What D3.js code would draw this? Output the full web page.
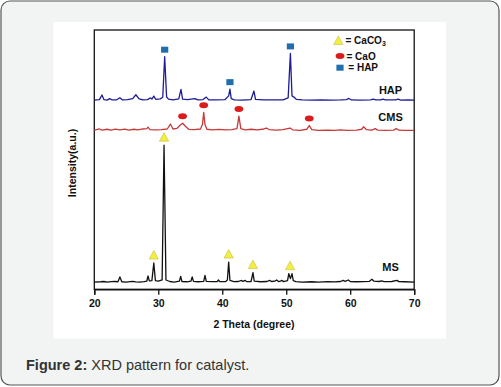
<!DOCTYPE html>
<html><head><meta charset="utf-8">
<script src="https://cdn.jsdelivr.net/npm/d3@7"></script>
<style>
html,body{margin:0;padding:0;background:#fff;}
svg{display:block;font-family:"Liberation Sans",Arial,sans-serif;}
</style></head>
<body><svg id="c" width="501" height="387"></svg>
<script>
// ---------- DATA ----------
const xTicks = [20, 30, 40, 50, 60, 70];
const seriesNames = ["HAP", "CMS", "MS"];

// MS (black) : [2theta, intensity]
const msData = [
[20,0],[21,2],[21.5,4],[22,0],[22.6,3],[23.2,4],[23.7,2],[24.0,37],[24.3,2],[25,0],[25.6,3],[26,5],[26.5,1],[27,0],
[27.8,3],[28.2,6],[28.4,44],[28.6,8],[29.0,10],[29.3,139],[29.55,10],[30.0,6],[30.6,15],[30.9,1000],[31.2,15],
[31.8,4],[32.5,0],[33.3,6],[33.5,42],[33.7,4],[34.5,2],[35.1,6],[35.3,37],[35.5,5],[36.2,2],[37.1,5],[37.3,49],
[37.5,5],[38.5,3],[39.2,3],[39.4,15],[39.6,3],[40.5,3],[40.8,15],[41.0,146],[41.2,12],[41.8,3],[42.5,4],[43.0,12],
[43.2,5],[43.6,12],[43.8,3],[44.5,4],[44.8,69],[45.0,6],[46,2],[47.0,4],[47.4,12],[47.7,4],[48.2,6],[48.5,15],
[48.8,4],[49.1,7],[49.3,12],[49.6,3],[50.2,10],[50.4,61],[50.65,25],[50.9,61],[51.1,10],[51.5,3],[52.5,0],[54,2],
[55,0],[56.5,3],[57.5,1],[58.5,4],[58.9,12],[59.2,5],[59.7,15],[60.0,4],[61,2],[62,3],[63.0,5],[63.4,20],[63.7,6],
[64.5,4],[64.9,8],[65.3,3],[66.5,4],[67.3,12],[67.6,3],[68.5,2],[70,0]];

// CMS (red)
const cmsData = [
[20,1110],[20.8,1118],[21.2,1110],[22,1116],[22.6,1110],[23.3,1117],[24,1111],[24.8,1117],[25.4,1110],[26.2,1116],
[26.8,1112],[27.6,1118],[28.2,1121],[28.4,1132],[28.7,1114],[29.5,1112],[30.5,1114],[31.4,1118],[31.9,1154],[32.3,1118],
[32.9,1122],[33.4,1145],[33.8,1160],[34.2,1140],[34.8,1115],[35.6,1114],[36.6,1118],[36.9,1150],[37.1,1240],[37.3,1150],
[37.6,1116],[38.5,1112],[39.5,1115],[40.5,1111],[41.5,1114],[42.3,1120],[42.6,1212],[42.9,1120],[43.6,1112],[44.5,1116],
[45.5,1112],[46.5,1118],[46.9,1125],[47.3,1114],[48.5,1110],[49.5,1113],[50.6,1125],[51,1112],[52.2,1108],[53.2,1116],
[53.6,1143],[54.0,1114],[55,1108],[56.5,1110],[57.5,1108],[58.5,1112],[59.5,1108],[61,1110],[61.8,1116],[62.1,1135],
[62.5,1114],[63.4,1110],[63.9,1121],[64.3,1110],[65.5,1108],[66.8,1110],[67.2,1121],[67.6,1109],[68.5,1108],[70,1108]];

// HAP (blue)
const hapData = [
[20,1329],[20.8,1332],[21.2,1366],[21.5,1333],[22.0,1329],[22.4,1340],[22.8,1330],[23.5,1331],[24.0,1346],[24.4,1330],
[25.2,1332],[26.0,1340],[26.5,1368],[27.0,1338],[27.6,1331],[28.3,1333],[28.8,1345],[29.0,1336],[29.3,1358],[29.6,1335],
[30.3,1338],[30.7,1350],[31.0,1646],[31.3,1352],[31.6,1336],[32.3,1331],[33.2,1338],[33.55,1407],[33.8,1336],[34.6,1332],
[35.7,1340],[36.2,1331],[37.0,1333],[37.5,1351],[37.9,1331],[39,1330],[40.4,1332],[41.0,1360],[41.2,1409],[41.4,1340],
[41.9,1331],[43,1329],[44.5,1333],[44.95,1395],[45.2,1334],[46.5,1330],[48,1331],[49.5,1330],[50.3,1345],[50.65,1670],
[50.9,1360],[51.2,1351],[51.6,1334],[52.5,1330],[54,1329],[55.5,1330],[57,1329],[58.5,1330],[59.4,1333],[59.8,1341],
[60.2,1330],[61.5,1329],[63.2,1331],[63.6,1336],[64,1330],[64.8,1331],[65.1,1336],[65.5,1330],[67.1,1331],[67.5,1336],
[67.9,1329],[69,1330],[70,1329]];

// Phase markers: [2theta, peak intensity]
const caco3Marks = [[29.3,139],[30.9,1000],[41.0,146],[44.8,69],[50.6,61]];
const caoMarks = [[33.8,1160],[37.1,1240],[42.6,1212],[53.6,1143]];
const hapMarks = [[31.0,1646],[41.2,1409],[50.65,1670]];

const legendItems = ["CaCO", "CaO", "HAP"];

// ---------- DRAW ----------
const svg = d3.select("#c");

svg.append("rect").attr("x",1).attr("y",1).attr("width",498).attr("height",384)
  .attr("rx",9).attr("fill","#f2f4f3").attr("stroke","#555").attr("stroke-width",1.2);
svg.append("rect").attr("x",53.5).attr("y",22).attr("width",392.5).attr("height",316.5).attr("fill","#fff");

const x = d3.scaleLinear().domain([20,70]).range([94.3,414.2]);
const y = d3.scaleLinear().domain([-53,1841]).range([289.3,30]);

const g = svg.append("g");

// frame
g.append("rect").attr("x",x(20)).attr("y",30).attr("width",x(70)-x(20)).attr("height",289.3-30)
  .attr("fill","none").attr("stroke","#111").attr("stroke-width",1.3);

const xAxis = d3.axisBottom(x).tickValues(xTicks).tickSize(5.5).tickPadding(5).tickFormat(d3.format("d"));
const ax = g.append("g").attr("transform","translate(0,289.3)").call(xAxis);
ax.select(".domain").attr("stroke","#111").attr("stroke-width",1.3);
ax.selectAll(".tick line").attr("stroke","#111").attr("stroke-width",1.3);
ax.selectAll(".tick text").attr("fill","#111").attr("font-size",10.5).attr("font-weight","bold")
  .attr("font-family","'Liberation Sans',Arial,sans-serif");

svg.append("text").attr("x",254).attr("y",327.5).attr("text-anchor","middle")
  .attr("font-size",10.5).attr("font-weight","bold").attr("fill","#111").text("2 Theta (degree)");
svg.append("text").attr("transform","translate(75.5,163) rotate(-90)").attr("text-anchor","middle")
  .attr("font-size",10.5).attr("font-weight","bold").attr("fill","#111").text("Intensity(a.u.)");

const line = d3.line().x(d=>x(d[0])).y(d=>y(d[1]));
const traces = [[hapData,"#1d1d96"],[cmsData,"#c63a3a"],[msData,"#111"]];
traces.forEach(([data,col])=>{
  g.append("path").datum(data).attr("d",line).attr("fill","none").attr("stroke",col)
   .attr("stroke-width",1.3).attr("stroke-linejoin","round");
});

// series labels
const labelPos = [[66.3,1329,"HAP",6],[66.3,1110,"CMS",8.7],[66.3,0,"MS",11.5]];
labelPos.forEach(([lx,ly,t,dy])=>{
  svg.append("text").attr("x",x(lx)).attr("y",y(ly)-dy).attr("text-anchor","middle")
    .attr("font-size",11).attr("font-weight","bold").attr("fill","#111").text(t);
});

// markers
const tri = (cx,cy)=>`M${cx},${cy-4.5}L${cx+4.6},${cy+4}L${cx-4.6},${cy+4}Z`;
function drawTri(cx,cy){ svg.append("path").attr("d",tri(cx,cy)).attr("fill","#f4ef3a").attr("stroke","#c9c45a").attr("stroke-width",0.7); }
function drawEll(cx,cy){ svg.append("ellipse").attr("cx",cx).attr("cy",cy).attr("rx",4.4).attr("ry",3).attr("fill","#dc1c1c"); }
function drawSq(cx,cy){ svg.append("rect").attr("x",cx-3.6).attr("y",cy-3).attr("width",7.2).attr("height",6).attr("fill","#1f6fad"); }

caco3Marks.forEach(d=>drawTri(x(d[0]),y(d[1])-8));
caoMarks.forEach(d=>drawEll(x(d[0]),y(d[1])-7));
hapMarks.forEach(d=>drawSq(x(d[0]),y(d[1])-7));

// legend
drawTri(338.3,40.5);
drawEll(340,56);
drawSq(340,67.7);
const lt1 = svg.append("text").attr("x",345.5).attr("y",43.8).attr("font-size",10).attr("font-weight","bold").attr("fill","#111");
lt1.append("tspan").text("= "+legendItems[0]);
lt1.append("tspan").attr("dy",2.5).attr("font-size",7).text("3");
svg.append("text").attr("x",346.5).attr("y",59.5).attr("font-size",10).attr("font-weight","bold").attr("fill","#111").text("= "+legendItems[1]);
svg.append("text").attr("x",348.3).attr("y",71.2).attr("font-size",10).attr("font-weight","bold").attr("fill","#111").text("= "+legendItems[2]);

// caption
const cap = svg.append("text").attr("x",26).attr("y",369.5).attr("font-size",14.5).attr("fill","#333")
  .attr("font-family","'Liberation Sans',Arial,sans-serif");
cap.append("tspan").attr("font-weight","bold").text("Figure 2:");
cap.append("tspan").text(" XRD pattern for catalyst.");
</script></body></html>
